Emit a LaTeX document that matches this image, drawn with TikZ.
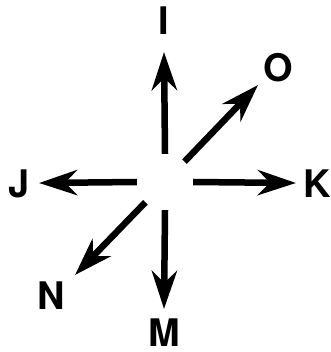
\documentclass[tikz,border=0pt]{standalone}
\usepackage{fontspec}
\setmainfont{TeX Gyre Heros}
\usetikzlibrary{arrows.meta}

\begin{document}
\begin{tikzpicture}[
  x=1pt, y=-1pt,
  lbl/.style={inner sep=0pt, font=\fontsize{38}{40}\selectfont\bfseries},
  arr/.style={-{Stealth[length=38pt, width=25pt, inset=12pt]}, line width=6.5pt}]

\useasboundingbox (0,0) rectangle (330,352);

% Hub in the middle (nothing drawn)
\node[circle, minimum size=56pt, inner sep=0pt] (hub) at (165,182) {};

% Labels
\node[lbl] (I) at (164,21)  {I};
\node[lbl] (O) at (278,68)  {O};
\node[lbl] (K) at (317,184) {K};
\node[lbl] (J) at (19,184)  {J};
\node[lbl] (N) at (51,296)  {N};
\node[lbl] (M) at (164,333) {M};

% Arrow tips
\coordinate (tipI) at (164,52);
\coordinate (tipO) at (258,85);
\coordinate (tipK) at (296,183);
\coordinate (tipJ) at (39,183);
\coordinate (tipN) at (75,275);
\coordinate (tipM) at (164,309);

% Arrows out of the hub
\draw[arr] (hub.90)  -- (tipI);
\draw[arr] (hub)     -- (tipO);
\draw[arr] (hub.0)   -- (tipK);
\draw[arr] (hub.180) -- (tipJ);
\draw[arr] (hub)     -- (tipN);
\draw[arr] (hub.270) -- (tipM);
\end{tikzpicture}
\end{document}
